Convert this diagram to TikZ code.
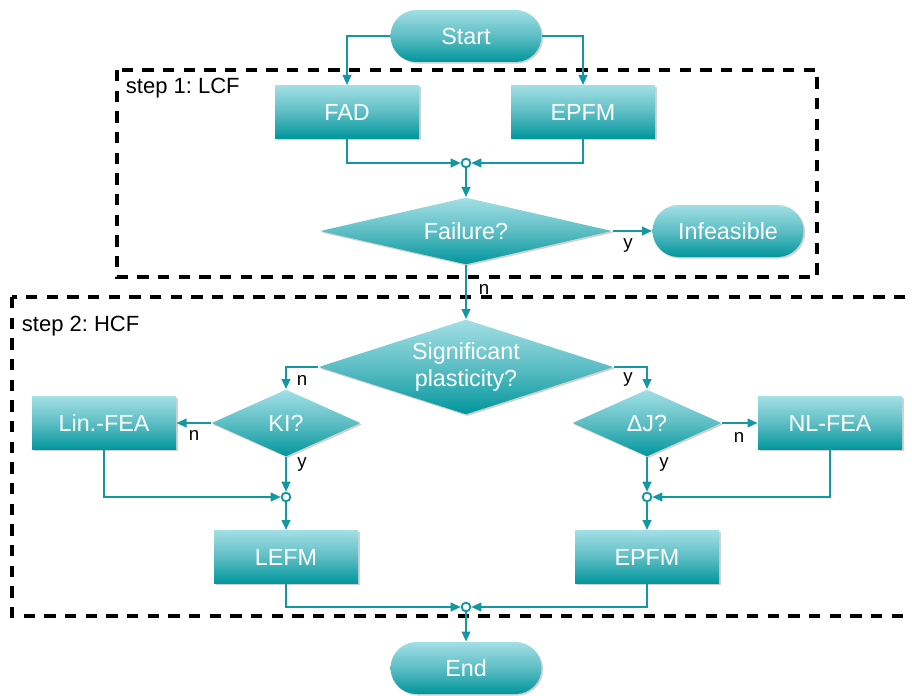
\documentclass[tikz,border=0pt]{standalone}
\usepackage{fontspec}
\setmainfont{Liberation Sans}
\usetikzlibrary{shapes.geometric,arrows.meta,shadows}
\frenchspacing

\definecolor{tealtop}{RGB}{162,223,229}
\definecolor{tealmid}{RGB}{92,190,196}
\definecolor{tealbot}{RGB}{0,150,156}
\definecolor{tealline}{RGB}{18,152,160}

\tikzset{every picture/.style={line width=0.75pt}}
\tikzset{
  flowfill/.style={top color=tealtop, bottom color=tealbot, middle color=tealmid,
    draw=none, text=white, font=\fontsize{17.5}{20}\selectfont, inner sep=0pt,
    drop shadow={shadow xshift=1.2pt, shadow yshift=-1.2pt, opacity=0.3, fill=black!60}},
  term/.style={flowfill, rectangle, rounded corners=19.5pt, minimum width=113.25pt, minimum height=39pt},
  proc/.style={flowfill, rectangle, minimum width=108pt, minimum height=39.75pt},
  decide/.style={flowfill, diamond, align=center},
  junc/.style={circle, draw=tealline, fill=white, line width=1.4pt, minimum size=6.5pt, inner sep=0pt},
  flow/.style={draw=tealline, line width=1.4pt, -{Triangle[length=7.5pt,width=6.5pt]}},
  stepframe/.style={draw=black, line width=2.4pt, dash pattern={on 8.5pt off 7pt}},
  lbl/.style={font=\fontsize{14}{16}\selectfont, text=black},
  steplbl/.style={font=\fontsize{16.5}{19}\selectfont, text=black, anchor=west}
}

\begin{document}
\begin{tikzpicture}[x=0.75pt,y=0.75pt,yscale=-1,xscale=1]
	\useasboundingbox (0,0) rectangle (912,695);
	\clip (0,0) rectangle (912,695);

	%Shape: Dashed Frame [id:step1]
	\draw [stepframe] (117,70) rectangle (817,277) ;
	%Shape: Dashed Frame [id:step2]
	\draw [stepframe] (12,297) rectangle (925,616) ;

	%Shape: Terminal [id:start]
	\draw (466,36) node [term] (start) {Start};
	%Shape: Rectangle [id:fad]
	\draw (347,112) node [proc] (fad) {FAD};
	%Shape: Rectangle [id:epfmA]
	\draw (583,112) node [proc] (epfmA) {EPFM};
	%Shape: Junction [id:jA]
	\draw (466,163) node [junc] (jA) {};
	%Shape: Diamond [id:fail]
	\draw (466,231) node [decide, aspect=4.36, minimum width=219pt, minimum height=50.25pt] (fail) {Failure?};
	%Shape: Terminal [id:infeas]
	\draw (728,231) node [term] (infeas) {Infeasible};
	%Shape: Diamond [id:sig]
	\draw (466,367) node [decide, aspect=3.1, minimum width=221.25pt, minimum height=71.25pt] (sig) {Significant\\plasticity?};
	%Shape: Diamond [id:ki]
	\draw (286,423) node [decide, aspect=2.22, minimum width=111.75pt, minimum height=50.25pt] (ki) {KI?};
	%Shape: Diamond [id:dj]
	\draw (647,423) node [decide, aspect=2.22, minimum width=111.75pt, minimum height=50.25pt] (dj) {ΔJ?};
	%Shape: Rectangle [id:linfea]
	\draw (104,423) node [proc] (linfea) {Lin.-FEA};
	%Shape: Rectangle [id:nlfea]
	\draw (830,423) node [proc] (nlfea) {NL-FEA};
	%Shape: Junction [id:jB]
	\draw (286,497) node [junc] (jB) {};
	%Shape: Junction [id:jC]
	\draw (647,497) node [junc] (jC) {};
	%Shape: Rectangle [id:lefm]
	\draw (286,557) node [proc] (lefm) {LEFM};
	%Shape: Rectangle [id:epfmB]
	\draw (647,557) node [proc] (epfmB) {EPFM};
	%Shape: Junction [id:jD]
	\draw (466,607) node [junc] (jD) {};
	%Shape: Terminal [id:end]
	\draw (466,668) node [term] (end) {End};

	%Straight Lines [step 1]
	\draw [flow] (start.west) -| (fad.north) ;
	\draw [flow] (start.east) -| (epfmA.north) ;
	\draw [flow] (fad.south) |- (jA) ;
	\draw [flow] (epfmA.south) |- (jA) ;
	\draw [flow] (jA) -- (fail.north) ;
	\draw [flow] (fail.east) -- (infeas.west) ;
	\draw [flow] (fail.south) -- (sig.north) ;
	%Straight Lines [step 2]
	\draw [flow] (sig.west) -| (ki.north) ;
	\draw [flow] (sig.east) -| (dj.north) ;
	\draw [flow] (ki.west) -- (linfea.east) ;
	\draw [flow] (dj.east) -- (nlfea.west) ;
	\draw [flow] (ki.south) -- (jB) ;
	\draw [flow] (linfea.south) |- (jB) ;
	\draw [flow] (dj.south) -- (jC) ;
	\draw [flow] (nlfea.south) |- (jC) ;
	\draw [flow] (jB) -- (lefm.north) ;
	\draw [flow] (jC) -- (epfmB.north) ;
	\draw [flow] (lefm.south) |- (jD) ;
	\draw [flow] (epfmB.south) |- (jD) ;
	\draw [flow] (jD) -- (end.north) ;

	% Text Node
	\draw (121,88) node [steplbl] (lblA) {step 1: LCF};
	% Text Node
	\draw (17,326) node [steplbl] (lblB) {step 2: HCF};
	% Text Node
	\draw (628,246) node [lbl] (yA) {y};
	% Text Node
	\draw (484,289) node [lbl] (nA) {n};
	% Text Node
	\draw (302,380) node [lbl] (nB) {n};
	% Text Node
	\draw (628,380) node [lbl] (yB) {y};
	% Text Node
	\draw (194,435) node [lbl] (nC) {n};
	% Text Node
	\draw (739,437) node [lbl] (nD) {n};
	% Text Node
	\draw (302,465) node [lbl] (yC) {y};
	% Text Node
	\draw (664,465) node [lbl] (yD) {y};

\end{tikzpicture}
\end{document}
